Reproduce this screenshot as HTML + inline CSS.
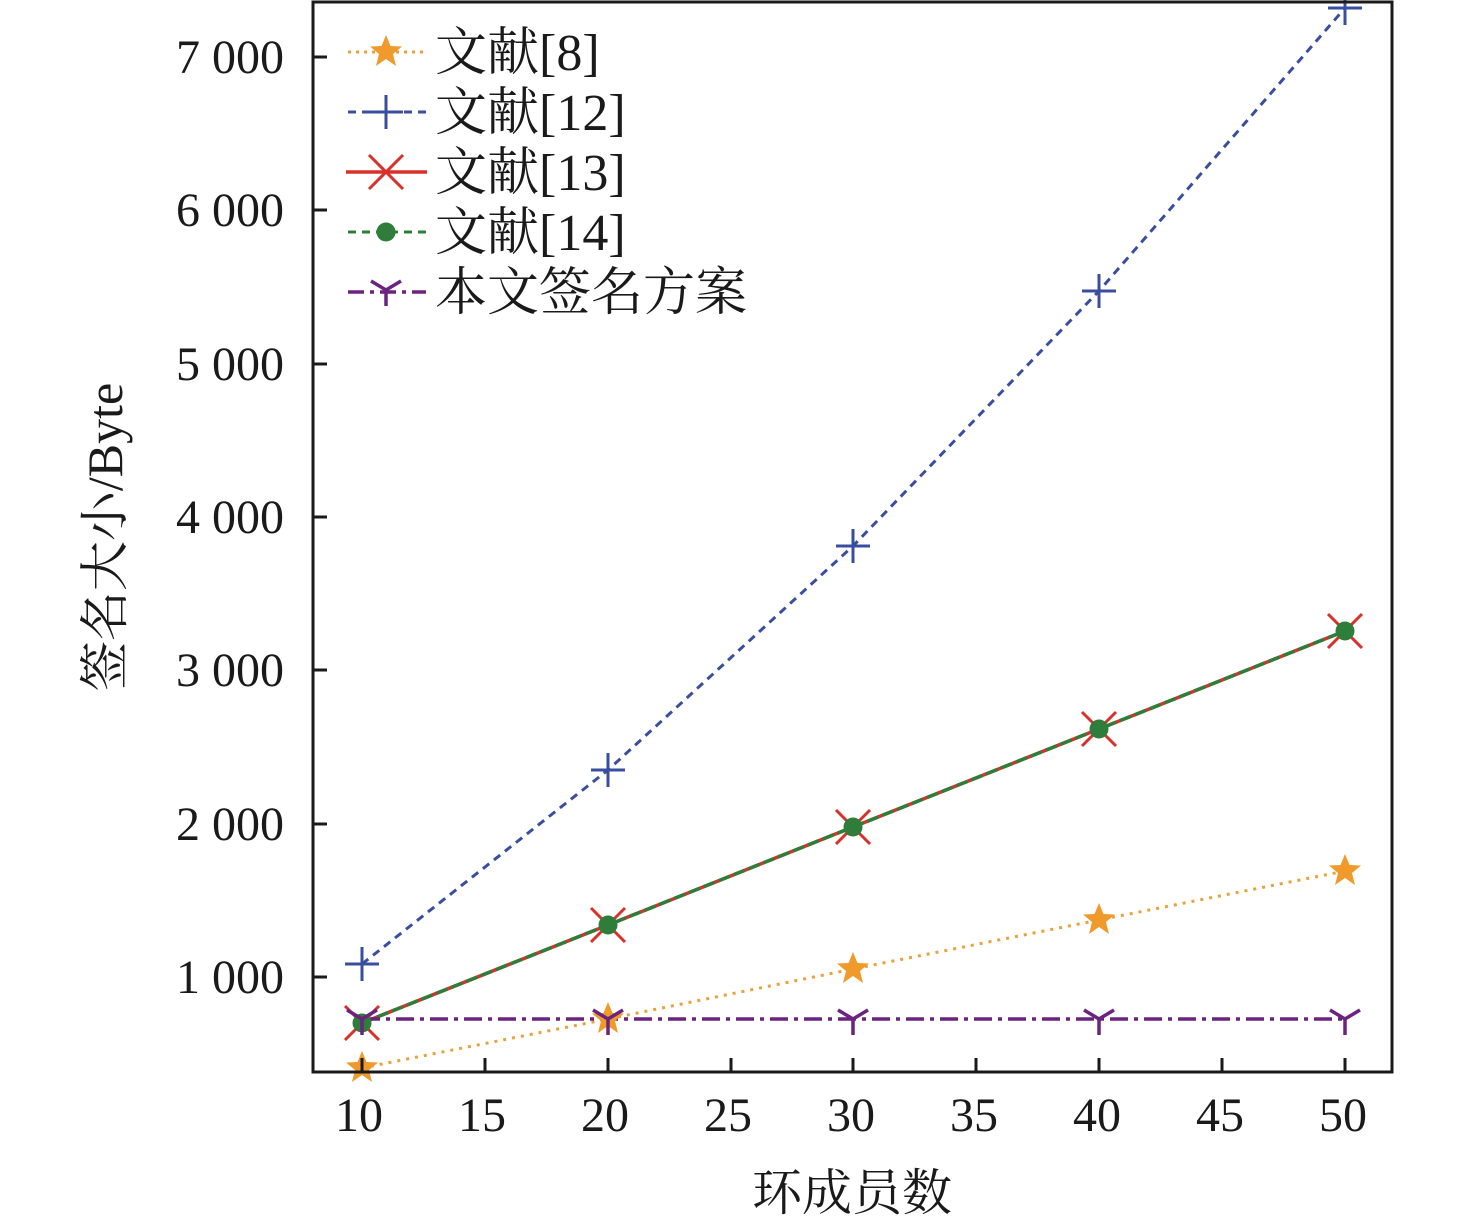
<!DOCTYPE html>
<html><head><meta charset="utf-8"><style>
html,body{margin:0;padding:0;background:#fff;}
svg{display:block;}
text{font-family:"Liberation Serif","Noto Serif CJK SC","Noto Sans CJK SC",serif;fill:#1a1a1a;}
</style></head><body>
<svg width="1476" height="1229" viewBox="0 0 1476 1229" xmlns="http://www.w3.org/2000/svg">
<defs>
<g id="star"><polygon points="0,-17 4.5,-6 16,-5.5 7,2 10,14 0,7 -10,14 -7,2 -16,-5.5 -4.5,-6" fill="#ef9a2a"/></g>
<g id="plus" stroke="#3a4ea0" stroke-width="3"><line x1="-17" y1="0" x2="17" y2="0"/><line x1="0" y1="-17" x2="0" y2="17"/></g>
<g id="cross" stroke="#d9302a" stroke-width="3"><line x1="-17" y1="-17" x2="17" y2="17"/><line x1="-17" y1="17" x2="17" y2="-17"/></g>
<g id="dot"><circle r="9.5" fill="#2f7d3a"/></g>
<g id="tri" stroke="#6a237e" stroke-width="3.5" fill="none"><line x1="0" y1="0" x2="0" y2="16"/><line x1="0" y1="0" x2="-15" y2="-9"/><line x1="0" y1="0" x2="15" y2="-9"/></g>
</defs>

<polyline points="362,1068 608,1019 853,969 1099,920 1345,871" fill="none" stroke="#e9a23a" stroke-width="3" stroke-dasharray="3,6"/>
<polyline points="362,964 608,770 853,546 1099,291 1345,8" fill="none" stroke="#3a4ea0" stroke-width="3" stroke-dasharray="8,6"/>
<polyline points="362,1023 608,925 853,827 1099,729 1345,631" fill="none" stroke="#d9302a" stroke-width="3.5"/>
<polyline points="362,1023 608,925 853,827 1099,729 1345,631" fill="none" stroke="#2f7d3a" stroke-width="3.5" stroke-dasharray="12,4"/>
<polyline points="362,1019 1345,1019" fill="none" stroke="#6a237e" stroke-width="3.5" stroke-dasharray="18,6,4,6"/>

<g>
<use href="#cross" x="362" y="1023"/><use href="#cross" x="608" y="925"/><use href="#cross" x="853" y="827"/><use href="#cross" x="1099" y="729"/><use href="#cross" x="1345" y="631"/>
<use href="#dot" x="362" y="1023"/><use href="#dot" x="608" y="925"/><use href="#dot" x="853" y="827"/><use href="#dot" x="1099" y="729"/><use href="#dot" x="1345" y="631"/>
<use href="#star" x="362" y="1068"/><use href="#star" x="608" y="1019"/><use href="#star" x="853" y="969"/><use href="#star" x="1099" y="920"/><use href="#star" x="1345" y="871"/>
<use href="#plus" x="362" y="964"/><use href="#plus" x="608" y="770"/><use href="#plus" x="853" y="546"/><use href="#plus" x="1099" y="291"/><use href="#plus" x="1345" y="8"/>
<use href="#tri" x="362" y="1019"/><use href="#tri" x="608" y="1019"/><use href="#tri" x="853" y="1019"/><use href="#tri" x="1099" y="1019"/><use href="#tri" x="1345" y="1019"/>
</g>

<rect x="313" y="2" width="1079" height="1070" fill="none" stroke="#1a1a1a" stroke-width="3"/>
<g stroke="#1a1a1a" stroke-width="3">
<line x1="313" y1="57" x2="327" y2="57"/><line x1="313" y1="210" x2="327" y2="210"/><line x1="313" y1="364" x2="327" y2="364"/><line x1="313" y1="517" x2="327" y2="517"/><line x1="313" y1="670" x2="327" y2="670"/><line x1="313" y1="824" x2="327" y2="824"/><line x1="313" y1="977" x2="327" y2="977"/>
<line x1="362" y1="1072" x2="362" y2="1058"/><line x1="485" y1="1072" x2="485" y2="1058"/><line x1="608" y1="1072" x2="608" y2="1058"/><line x1="731" y1="1072" x2="731" y2="1058"/><line x1="853" y1="1072" x2="853" y2="1058"/><line x1="976" y1="1072" x2="976" y2="1058"/><line x1="1099" y1="1072" x2="1099" y2="1058"/><line x1="1222" y1="1072" x2="1222" y2="1058"/><line x1="1345" y1="1072" x2="1345" y2="1058"/>
</g>

<g font-size="48" text-anchor="end">
<text x="284" y="73">7 000</text><text x="284" y="226">6 000</text><text x="284" y="380">5 000</text><text x="284" y="533">4 000</text><text x="284" y="686">3 000</text><text x="284" y="840">2 000</text><text x="284" y="993">1 000</text>
</g>
<g font-size="48" text-anchor="middle">
<text x="359" y="1131">10</text><text x="482" y="1131">15</text><text x="605" y="1131">20</text><text x="728" y="1131">25</text><text x="851" y="1131">30</text><text x="974" y="1131">35</text><text x="1097" y="1131">40</text><text x="1220" y="1131">45</text><text x="1343" y="1131">50</text>
</g>
<text x="852" y="1210" font-size="50" text-anchor="middle">环成员数</text>
<text transform="translate(122,537) rotate(-90)" font-size="50" text-anchor="middle">签名大小/Byte</text>

<g>
<line x1="348" y1="52" x2="426" y2="52" stroke="#e9a23a" stroke-width="3" stroke-dasharray="3,5"/><use href="#star" x="386" y="52"/>
<line x1="348" y1="112" x2="426" y2="112" stroke="#3a4ea0" stroke-width="3" stroke-dasharray="8,6"/><use href="#plus" x="386" y="112"/>
<line x1="346" y1="172" x2="427" y2="172" stroke="#d9302a" stroke-width="3.5"/><use href="#cross" x="386" y="172"/>
<line x1="348" y1="232" x2="426" y2="232" stroke="#2f7d3a" stroke-width="3" stroke-dasharray="8,6"/><use href="#dot" x="386" y="232"/>
<line x1="348" y1="292" x2="426" y2="292" stroke="#6a237e" stroke-width="3.5" stroke-dasharray="16,6,4,6"/><use href="#tri" x="386" y="290"/>
</g>
<g font-size="52">
<text x="435" y="70">文献[8]</text>
<text x="435" y="130">文献[12]</text>
<text x="435" y="190">文献[13]</text>
<text x="435" y="250">文献[14]</text>
<text x="435" y="310">本文签名方案</text>
</g>
</svg>
</body></html>
